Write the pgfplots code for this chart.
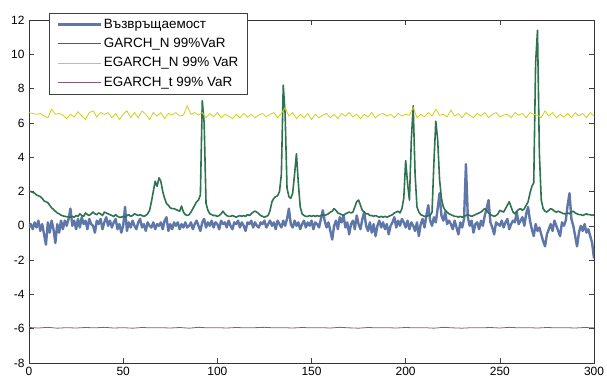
\documentclass[border=0pt]{standalone}
\usepackage{fontspec}
\setmainfont{Liberation Sans}
\usepackage{pgfplots}
\usepackage{pgfplotstable}
\pgfplotsset{compat=1.18}
\definecolor{cret}{RGB}{94,119,168}
\definecolor{cgarch}{RGB}{46,114,80}
\definecolor{cegn}{RGB}{212,206,22}
\definecolor{cegt}{RGB}{140,90,120}

\pgfplotstableread[row sep=\\]{
x y\\
0 -0.1\\ 1 0.1\\ 2 -0.2\\ 3 0.2\\ 4 -0.1\\ 5 0.3\\ 6 -0.3\\ 7 0.1\\ 8 -0.5\\ 9 -1.1\\
10 0.2\\ 11 -0.4\\ 12 0.3\\ 13 -0.2\\ 14 -1.0\\ 15 0.1\\ 16 -0.4\\ 17 0.3\\ 18 -0.2\\ 19 0.3\\
20 0.0\\ 21 0.4\\ 22 1.0\\ 23 0.0\\ 24 0.3\\ 25 -0.2\\ 26 0.4\\ 27 -0.1\\ 28 0.5\\ 29 0.1\\
30 0.3\\ 31 -0.2\\ 32 0.4\\ 33 0.1\\ 34 0.0\\ 35 -0.4\\ 36 0.3\\ 37 0.1\\ 38 0.4\\ 39 -0.2\\
40 0.2\\ 41 0.5\\ 42 0.0\\ 43 0.3\\ 44 -0.1\\ 45 0.2\\ 46 0.4\\ 47 -0.2\\ 48 0.1\\ 49 -0.4\\
50 0.0\\ 51 1.1\\ 52 -0.3\\ 53 0.2\\ 54 -0.1\\ 55 0.3\\ 56 0.0\\ 57 -0.2\\ 58 0.2\\ 59 0.4\\
60 -0.1\\ 61 0.1\\ 62 -0.3\\ 63 0.2\\ 64 0.0\\ 65 -0.1\\ 66 0.2\\ 67 -0.2\\ 68 0.1\\ 69 0.0\\
70 0.2\\ 71 -0.2\\ 72 0.3\\ 73 0.5\\ 74 -0.3\\ 75 0.1\\ 76 -0.2\\ 77 0.2\\ 78 0.0\\ 79 0.2\\
80 -0.2\\ 81 0.1\\ 82 -0.1\\ 83 0.2\\ 84 -0.1\\ 85 0.0\\ 86 0.2\\ 87 -0.2\\ 88 0.1\\ 89 0.3\\
90 0.0\\ 91 -0.3\\ 92 0.2\\ 93 0.4\\ 94 -0.1\\ 95 0.2\\ 96 0.0\\ 97 0.3\\ 98 -0.1\\ 99 0.2\\
100 0.1\\ 101 -0.2\\ 102 0.3\\ 103 0.1\\ 104 0.2\\ 105 -0.1\\ 106 0.3\\ 107 0.0\\ 108 -0.2\\ 109 0.2\\
110 0.1\\ 111 0.3\\ 112 -0.1\\ 113 0.2\\ 114 0.0\\ 115 -0.3\\ 116 0.2\\ 117 0.1\\ 118 0.3\\ 119 -0.1\\
120 0.2\\ 121 0.0\\ 122 -0.1\\ 123 0.2\\ 124 0.1\\ 125 0.3\\ 126 -0.1\\ 127 0.1\\ 128 0.3\\ 129 0.0\\
130 0.2\\ 131 -0.2\\ 132 0.3\\ 133 0.1\\ 134 -0.1\\ 135 0.3\\ 136 0.0\\ 137 0.4\\ 138 1.0\\ 139 0.1\\
140 -0.1\\ 141 0.3\\ 142 0.0\\ 143 0.2\\ 144 -0.2\\ 145 0.1\\ 146 0.3\\ 147 -0.1\\ 148 0.2\\ 149 0.0\\
150 0.3\\ 151 -0.2\\ 152 0.2\\ 153 0.1\\ 154 -0.1\\ 155 0.4\\ 156 0.9\\ 157 0.3\\ 158 -0.1\\ 159 0.2\\
160 -0.3\\ 161 -0.8\\ 162 0.0\\ 163 0.3\\ 164 -0.2\\ 165 0.5\\ 166 0.2\\ 167 0.6\\ 168 -0.1\\ 169 0.2\\
170 -0.5\\ 171 0.1\\ 172 0.3\\ 173 -0.2\\ 174 0.6\\ 175 0.1\\ 176 -0.2\\ 177 0.4\\ 178 0.8\\ 179 0.0\\
180 -0.3\\ 181 0.2\\ 182 -0.4\\ 183 0.1\\ 184 -0.6\\ 185 0.0\\ 186 0.3\\ 187 -0.1\\ 188 0.2\\ 189 -0.2\\
190 0.1\\ 191 -0.5\\ 192 0.0\\ 193 0.2\\ 194 0.5\\ 195 -0.1\\ 196 0.3\\ 197 0.0\\ 198 0.4\\ 199 0.2\\
200 -0.1\\ 201 0.3\\ 202 -0.2\\ 203 0.2\\ 204 0.0\\ 205 -0.3\\ 206 0.2\\ 207 -0.6\\ 208 0.1\\ 209 0.4\\
210 -0.1\\ 211 0.6\\ 212 1.2\\ 213 0.3\\ 214 0.0\\ 215 0.5\\ 216 0.2\\ 217 1.0\\ 218 1.9\\ 219 0.6\\
220 0.3\\ 221 0.8\\ 222 0.1\\ 223 0.3\\ 224 0.1\\ 225 -0.2\\ 226 0.3\\ 227 -0.1\\ 228 -0.5\\ 229 0.2\\
230 -0.1\\ 231 0.4\\ 232 3.6\\ 233 0.5\\ 234 0.0\\ 235 0.3\\ 236 -0.4\\ 237 0.1\\ 238 0.2\\ 239 -0.2\\
240 0.3\\ 241 0.0\\ 242 0.6\\ 243 1.0\\ 244 1.5\\ 245 0.2\\ 246 -0.1\\ 247 -0.5\\ 248 0.2\\ 249 0.1\\
250 0.0\\ 251 0.3\\ 252 -0.1\\ 253 0.2\\ 254 0.4\\ 255 -0.2\\ 256 0.1\\ 257 0.3\\ 258 0.2\\ 259 0.8\\
260 0.1\\ 261 0.3\\ 262 0.5\\ 263 0.0\\ 264 0.7\\ 265 1.1\\ 266 0.3\\ 267 -0.2\\ 268 -0.6\\ 269 0.1\\
270 -0.3\\ 271 -0.1\\ 272 -0.5\\ 273 -0.9\\ 274 -1.2\\ 275 -0.5\\ 276 -0.2\\ 277 0.1\\ 278 -0.3\\ 279 0.3\\
280 0.0\\ 281 -0.3\\ 282 -0.6\\ 283 0.2\\ 284 0.0\\ 285 0.3\\ 286 1.2\\ 287 1.9\\ 288 0.4\\ 289 0.0\\
290 -0.6\\ 291 -1.2\\ 292 -0.4\\ 293 0.0\\ 294 -0.3\\ 295 0.1\\ 296 -0.4\\ 297 -0.2\\ 298 -0.6\\ 299 -1.0\\
300 -1.9\\
}\ret

\pgfplotstableread[row sep=\\]{
x y\\
0 2.0\\ 1 2.0\\ 2 1.95\\ 3 1.9\\ 4 1.8\\ 5 1.75\\ 6 1.7\\ 7 1.6\\ 8 1.45\\ 9 1.4\\
10 1.35\\ 11 1.2\\ 12 1.05\\ 13 0.95\\ 14 0.85\\ 15 0.75\\ 16 0.7\\ 17 0.62\\ 18 0.58\\ 19 0.55\\
20 0.53\\ 21 0.52\\ 22 0.5\\ 23 0.55\\ 24 0.5\\ 25 0.6\\ 26 0.55\\ 27 0.7\\ 28 0.6\\ 29 0.55\\
30 0.75\\ 31 0.65\\ 32 0.6\\ 33 0.7\\ 34 0.8\\ 35 0.7\\ 36 0.65\\ 37 0.75\\ 38 0.7\\ 39 0.6\\
40 0.8\\ 41 0.75\\ 42 0.7\\ 43 0.65\\ 44 0.6\\ 45 0.55\\ 46 0.65\\ 47 0.55\\ 48 0.5\\ 49 0.5\\
50 0.55\\ 51 0.5\\ 52 0.6\\ 53 0.65\\ 54 0.55\\ 55 0.6\\ 56 0.7\\ 57 0.65\\ 58 0.6\\ 59 0.65\\
60 0.6\\ 61 0.55\\ 62 0.6\\ 63 0.7\\ 64 0.9\\ 65 1.4\\ 66 2.0\\ 67 2.6\\ 68 2.3\\ 69 2.8\\
70 2.6\\ 71 2.0\\ 72 1.6\\ 73 1.3\\ 74 1.2\\ 75 1.05\\ 76 1.0\\ 77 1.0\\ 78 0.95\\ 79 0.9\\
80 0.85\\ 81 1.15\\ 82 0.8\\ 83 0.65\\ 84 0.6\\ 85 0.65\\ 86 0.8\\ 87 1.0\\ 88 1.2\\ 89 1.4\\
90 1.5\\ 91 1.8\\ 92 7.3\\ 93 6.0\\ 94 1.3\\ 95 0.9\\ 96 0.7\\ 97 0.65\\ 98 0.6\\ 99 0.6\\
100 0.55\\ 101 0.6\\ 102 0.7\\ 103 0.85\\ 104 0.7\\ 105 0.6\\ 106 0.55\\ 107 0.55\\ 108 0.6\\ 109 0.55\\
110 0.5\\ 111 0.55\\ 112 0.6\\ 113 0.55\\ 114 0.6\\ 115 0.55\\ 116 0.65\\ 117 0.6\\ 118 0.7\\ 119 0.8\\
120 0.85\\ 121 0.8\\ 122 0.7\\ 123 0.6\\ 124 0.55\\ 125 0.5\\ 126 0.55\\ 127 0.6\\ 128 0.9\\ 129 1.4\\
130 1.6\\ 131 1.7\\ 132 1.75\\ 133 2.0\\ 134 3.0\\ 135 8.2\\ 136 6.5\\ 137 2.2\\ 138 1.7\\ 139 1.6\\
140 1.9\\ 141 3.0\\ 142 4.2\\ 143 2.5\\ 144 1.1\\ 145 0.7\\ 146 0.6\\ 147 0.55\\ 148 0.55\\ 149 0.6\\
150 0.55\\ 151 0.6\\ 152 0.55\\ 153 0.6\\ 154 0.55\\ 155 0.6\\ 156 0.65\\ 157 0.6\\ 158 0.65\\ 159 0.7\\
160 0.8\\ 161 0.85\\ 162 1.0\\ 163 0.9\\ 164 0.75\\ 165 0.7\\ 166 0.65\\ 167 0.6\\ 168 0.7\\ 169 0.75\\
170 0.8\\ 171 0.75\\ 172 0.8\\ 173 1.1\\ 174 1.4\\ 175 1.5\\ 176 1.2\\ 177 0.9\\ 178 0.8\\ 179 0.7\\
180 0.7\\ 181 0.6\\ 182 0.6\\ 183 0.55\\ 184 0.6\\ 185 0.55\\ 186 0.5\\ 187 0.55\\ 188 0.5\\ 189 0.55\\
190 0.5\\ 191 0.55\\ 192 0.6\\ 193 0.65\\ 194 0.75\\ 195 0.8\\ 196 0.85\\ 197 0.75\\ 198 1.0\\ 199 1.6\\
200 3.8\\ 201 2.5\\ 202 1.5\\ 203 5.0\\ 204 7.0\\ 205 3.0\\ 206 1.1\\ 207 0.8\\ 208 0.65\\ 209 0.6\\
210 0.55\\ 211 0.55\\ 212 0.6\\ 213 0.6\\ 214 0.8\\ 215 3.7\\ 216 6.1\\ 217 5.0\\ 218 2.7\\ 219 1.6\\
220 1.1\\ 221 0.9\\ 222 0.8\\ 223 0.7\\ 224 0.65\\ 225 0.6\\ 226 0.55\\ 227 0.55\\ 228 0.5\\ 229 0.55\\
230 0.5\\ 231 0.55\\ 232 0.6\\ 233 0.65\\ 234 0.6\\ 235 0.55\\ 236 0.6\\ 237 0.65\\ 238 0.7\\ 239 0.75\\
240 0.8\\ 241 0.9\\ 242 1.0\\ 243 0.9\\ 244 0.75\\ 245 0.65\\ 246 0.6\\ 247 0.55\\ 248 0.6\\ 249 0.7\\
250 0.9\\ 251 0.85\\ 252 0.8\\ 253 1.0\\ 254 1.2\\ 255 1.4\\ 256 1.1\\ 257 0.8\\ 258 0.7\\ 259 0.85\\
260 0.95\\ 261 1.0\\ 262 0.9\\ 263 1.0\\ 264 1.2\\ 265 1.4\\ 266 1.9\\ 267 2.3\\ 268 2.5\\ 269 9.5\\
270 11.4\\ 271 4.2\\ 272 1.5\\ 273 1.0\\ 274 0.85\\ 275 0.8\\ 276 0.9\\ 277 1.0\\ 278 0.95\\ 279 0.85\\
280 0.8\\ 281 0.85\\ 282 0.8\\ 283 0.75\\ 284 0.7\\ 285 0.7\\ 286 0.75\\ 287 0.7\\ 288 0.8\\ 289 0.85\\
290 0.75\\ 291 0.7\\ 292 0.65\\ 293 0.65\\ 294 0.6\\ 295 0.65\\ 296 0.7\\ 297 0.65\\ 298 0.65\\ 299 0.6\\
300 0.65\\
}\garch

\pgfplotstableread[row sep=\\]{
x y\\
0 6.6\\ 2 6.55\\ 4 6.5\\ 6 6.55\\ 8 6.4\\ 10 6.3\\ 12 6.8\\ 14 6.5\\ 16 6.55\\ 18 6.45\\
20 6.25\\ 22 6.5\\ 24 6.35\\ 26 6.65\\ 28 6.4\\ 30 6.2\\ 32 6.6\\ 34 6.7\\ 36 6.35\\ 38 6.6\\
40 6.5\\ 42 6.6\\ 44 6.3\\ 46 6.55\\ 48 6.2\\ 50 6.5\\ 52 6.7\\ 54 6.3\\ 56 6.6\\ 58 6.3\\
60 6.7\\ 62 6.5\\ 64 6.2\\ 66 6.6\\ 68 6.4\\ 70 6.6\\ 72 6.25\\ 74 6.55\\ 76 6.45\\ 78 6.6\\
80 6.4\\ 82 6.45\\ 84 7.0\\ 86 6.5\\ 88 6.6\\ 90 6.45\\ 92 6.6\\ 94 6.3\\ 96 6.55\\ 98 6.35\\
100 6.6\\ 102 6.3\\ 104 6.5\\ 106 6.4\\ 108 6.25\\ 110 6.5\\ 112 6.3\\ 114 6.55\\ 116 6.35\\ 118 6.5\\
120 6.3\\ 122 6.45\\ 124 6.55\\ 126 6.35\\ 128 6.5\\ 130 6.6\\ 132 6.3\\ 134 6.55\\ 136 6.9\\ 138 6.4\\
140 6.6\\ 142 6.25\\ 144 6.5\\ 146 6.3\\ 148 6.55\\ 150 6.2\\ 152 6.5\\ 154 6.3\\ 156 6.45\\ 158 6.55\\
160 6.3\\ 162 6.5\\ 164 6.25\\ 166 6.55\\ 168 6.4\\ 170 6.6\\ 172 6.35\\ 174 6.5\\ 176 6.25\\ 178 6.5\\
180 6.35\\ 182 6.6\\ 184 6.3\\ 186 6.5\\ 188 6.55\\ 190 6.4\\ 192 6.5\\ 194 6.3\\ 196 6.55\\ 198 6.4\\
200 6.5\\ 202 6.45\\ 204 6.9\\ 206 6.3\\ 208 6.5\\ 210 6.35\\ 212 6.6\\ 214 6.4\\ 216 6.8\\ 218 6.45\\
220 6.5\\ 222 6.35\\ 224 6.75\\ 226 6.4\\ 228 6.55\\ 230 6.3\\ 232 6.6\\ 234 6.45\\ 236 6.3\\ 238 6.55\\
240 6.4\\ 242 6.6\\ 244 6.3\\ 246 6.5\\ 248 6.6\\ 250 6.35\\ 252 6.45\\ 254 6.5\\ 256 6.3\\ 258 6.6\\
260 6.45\\ 262 6.55\\ 264 6.3\\ 266 6.6\\ 268 6.5\\ 270 6.45\\ 272 6.3\\ 274 6.7\\ 276 6.4\\ 278 6.6\\
280 6.3\\ 282 6.5\\ 284 6.35\\ 286 6.55\\ 288 6.3\\ 290 6.6\\ 292 6.4\\ 294 6.55\\ 296 6.3\\ 298 6.6\\
300 6.4\\
}\egn

\pgfplotstableread[row sep=\\]{
x y\\
0 -5.93\\ 5 -5.96\\ 10 -5.92\\ 15 -5.97\\ 20 -5.94\\ 25 -5.96\\ 30 -5.93\\ 35 -5.95\\ 40 -5.92\\ 45 -5.96\\
50 -5.94\\ 55 -5.97\\ 60 -5.93\\ 65 -5.95\\ 70 -5.94\\ 75 -5.96\\ 80 -5.93\\ 85 -5.97\\ 90 -5.92\\ 95 -5.95\\
100 -5.94\\ 105 -5.96\\ 110 -5.93\\ 115 -5.95\\ 120 -5.94\\ 125 -5.92\\ 130 -5.95\\ 135 -5.94\\ 140 -5.96\\ 145 -5.93\\
150 -5.95\\ 155 -5.94\\ 160 -5.96\\ 165 -5.92\\ 170 -5.95\\ 175 -5.97\\ 180 -5.93\\ 185 -5.95\\ 190 -5.94\\ 195 -5.96\\
200 -5.93\\ 205 -5.95\\ 210 -5.94\\ 215 -5.97\\ 220 -5.92\\ 225 -5.95\\ 230 -5.97\\ 235 -5.94\\ 240 -5.95\\ 245 -5.93\\
250 -5.96\\ 255 -5.92\\ 260 -5.95\\ 265 -5.94\\ 270 -5.96\\ 275 -5.93\\ 280 -5.95\\ 285 -5.94\\ 290 -5.96\\ 295 -5.93\\
300 -5.95\\
}\egt

\begin{document}
\begin{tikzpicture}
\begin{axis}[
  scale only axis,
  width=565bp, height=343bp,
  xmin=0, xmax=300, ymin=-8, ymax=12,
  xtick={0,50,...,300}, ytick={-8,-6,...,12},
  tick align=inside,
  major tick length=5bp,
  tick style={black!75, line width=0.6pt},
  axis line style={black!80, line width=0.8pt},
  ticklabel style={font=\fontsize{12}{14}\selectfont},
  /pgf/number format/assume math mode=true,
  xticklabel style={yshift=-1bp},
  yticklabel style={xshift=-1bp},
  legend style={at={(0.036,1.021)}, anchor=north west, draw=black!75,
    font=\fontsize{13.5}{16}\selectfont, fill=white,
    inner xsep=7bp, inner ysep=4bp, row sep=4.5bp},
  legend cell align=left,
  legend image code/.code={\draw[#1] (0bp,0bp) -- (43bp,0bp);},
]
\addplot[cret, line width=2.4bp, line join=round] table[x=x,y=y] {\ret};
\addplot[cgarch, line width=1.6bp, line join=round] table[x=x,y=y] {\garch};
\addplot[cegn, line width=0.8bp] table[x=x,y=y] {\egn};
\addplot[cegt, line width=0.8bp] table[x=x,y=y] {\egt};
\legend{Възвръщаемост, GARCH\_N 99\%VaR, EGARCH\_N 99\% VaR, EGARCH\_t 99\% VaR}
\end{axis}
\pgfresetboundingbox
\path ([xshift=-29bp,yshift=-20bp]current axis.south west) rectangle ([xshift=13bp,yshift=20bp]current axis.north east);
\end{tikzpicture}
\end{document}
